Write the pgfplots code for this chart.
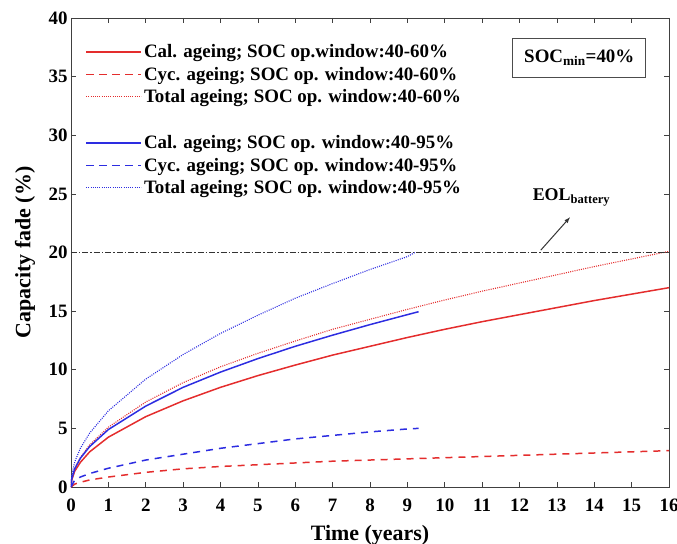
\documentclass[border=0pt]{standalone}
\usepackage{pgfplots}
\pgfplotsset{compat=1.18}
\usepackage{fontspec}
\setmainfont{Liberation Serif}
\definecolor{cred}{RGB}{228,45,45}
\definecolor{cblue}{RGB}{45,45,225}
\begin{document}
\begin{tikzpicture}
\useasboundingbox (-71bp,-57bp) rectangle (606bp,487bp);
\begin{axis}[
  at={(0,0)}, anchor=south west,
  scale only axis, width=598bp, height=469bp,
  xmin=0, xmax=16, ymin=0, ymax=40,
  xtick={0,1,2,3,4,5,6,7,8,9,10,11,12,13,14,15,16}, ytick={0,5,10,15,20,25,30,35,40},
  tick align=inside, major tick length=5bp,
  axis line style={line width=0.9pt, black!75},
  tick style={black!75, line width=0.7pt},
  /pgf/number format/assume math mode=true,
  tick label style={font=\fontsize{19}{21}\selectfont\bfseries},
  xticklabel={\rule{0pt}{21bp}\pgfmathprintnumber{\tick}},
  yticklabel={\pgfmathprintnumber{\tick}\hspace{4bp}},
  xlabel={Time (years)}, ylabel={Capacity fade (\%)},
  label style={font=\fontsize{22}{24}\selectfont\bfseries},
  xlabel style={at={(axis description cs:0.5,0)}, anchor=base, yshift=-53bp},
  ylabel style={at={(axis description cs:0,0.5)}, anchor=center, yshift=46bp},
  legend style={draw=none, fill=none, at={(0.024,0.948)}, anchor=north west,
    font=\fontsize{19}{21}\selectfont\bfseries, row sep=3.8bp, inner sep=0pt},
  legend cell align=left,
  legend image code/.code={\draw[#1] (0bp,0bp) -- (55bp,0bp);},
]
\addlegendimage{draw=cred, line width=1.5pt}
\addlegendentry{Cal. ageing; SOC op.window:40-60\%}
\addlegendimage{draw=cred, line width=1.5pt, dash pattern=on 8bp off 5bp}
\addlegendentry{Cyc. ageing; SOC op. window:40-60\%}
\addlegendimage{draw=cred, line width=1.1pt, dash pattern=on 1bp off 1.2bp}
\addlegendentry{Total ageing; SOC op. window:40-60\%}
\addlegendimage{empty legend}
\addlegendentry{\strut}
\addlegendimage{draw=cblue, line width=1.5pt}
\addlegendentry{Cal. ageing; SOC op. window:40-95\%}
\addlegendimage{draw=cblue, line width=1.5pt, dash pattern=on 8bp off 5bp}
\addlegendentry{Cyc. ageing; SOC op. window:40-95\%}
\addlegendimage{draw=cblue, line width=1.1pt, dash pattern=on 1bp off 1.2bp}
\addlegendentry{Total ageing; SOC op. window:40-95\%}
\addplot[cred, line width=1.5pt, forget plot] coordinates {(0,0)(0.02,0.6)(0.1,1.35)(0.25,2.1)(0.5,3.0)(1,4.25)(2,6.0)(3,7.35)(4,8.5)(5,9.5)(6,10.4)(7,11.25)(8,12.0)(9,12.75)(10,13.45)(11,14.1)(12,14.7)(13,15.3)(14,15.9)(15,16.45)(16,17.0)};
\addplot[cred, line width=1.5pt, dash pattern=on 7bp off 6bp, forget plot] coordinates {(0,0)(0.1,0.25)(0.25,0.4)(0.5,0.6)(1,0.85)(2,1.25)(3,1.55)(4,1.75)(5,1.9)(6,2.05)(7,2.2)(8,2.3)(9,2.4)(10,2.5)(11,2.6)(12,2.7)(13,2.8)(14,2.9)(15,3.0)(16,3.1)};
\addplot[cred, line width=1.1pt, dash pattern=on 1bp off 1.2bp, forget plot] coordinates {(0,0)(0.02,0.65)(0.1,1.6)(0.25,2.5)(0.5,3.6)(1,5.1)(2,7.25)(3,8.9)(4,10.25)(5,11.4)(6,12.45)(7,13.45)(8,14.3)(9,15.15)(10,15.95)(11,16.7)(12,17.4)(13,18.1)(14,18.8)(15,19.45)(16,20.1)};
\addplot[cblue, line width=1.5pt, forget plot] coordinates {(0,0)(0.02,0.7)(0.1,1.55)(0.25,2.45)(0.5,3.45)(1,4.9)(2,6.9)(3,8.5)(4,9.8)(5,10.95)(6,12.0)(7,12.95)(8,13.85)(9,14.7)(9.3,14.95)};
\addplot[cblue, line width=1.5pt, dash pattern=on 7bp off 6bp, forget plot] coordinates {(0,0)(0.1,0.6)(0.25,0.85)(0.5,1.15)(1,1.6)(2,2.3)(3,2.8)(4,3.3)(5,3.7)(6,4.1)(7,4.4)(8,4.7)(9,4.95)(9.3,5.0)};
\addplot[cblue, line width=1.1pt, dash pattern=on 1bp off 1.2bp, forget plot] coordinates {(0,0)(0.02,1.0)(0.1,2.15)(0.25,3.3)(0.5,4.6)(1,6.5)(2,9.2)(3,11.3)(4,13.1)(5,14.65)(6,16.1)(7,17.35)(8,18.55)(9,19.65)(9.2,20.0)};
\addplot[black!80, line width=1pt, dash pattern=on 6bp off 2bp on 1.5bp off 2bp, forget plot] coordinates {(0,20)(16,20)};
\draw[-latex, line width=1pt, black!80] (axis cs:12.57,20.2) -- (axis cs:13.35,23.0);
\node[font=\fontsize{18}{20}\selectfont\bfseries, anchor=base west, inner sep=0pt] at (axis cs:12.35,24.4) {EOL\textsubscript{battery}};
\node[draw=black!70, line width=0.9pt, fill=white, font=\fontsize{19}{21}\selectfont\bfseries, minimum width=133bp, minimum height=39bp, inner sep=0pt] at (axis cs:13.6,36.6) {SOC\textsubscript{min}=40\%};
\end{axis}
\end{tikzpicture}
\end{document}
